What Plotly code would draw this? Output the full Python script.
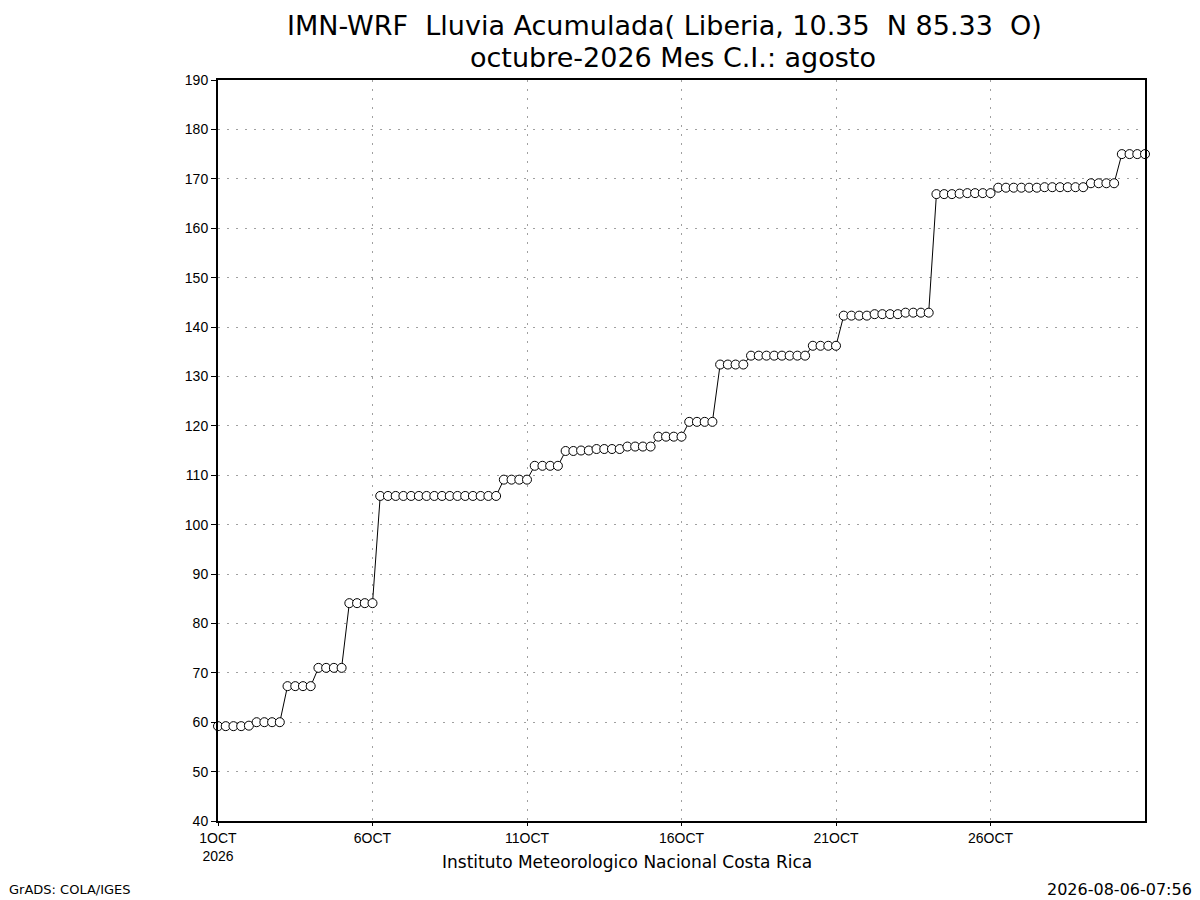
import pandas as pd
import plotly.graph_objects as go

# Accumulated rainfall (mm), one value every 6 hours from 1 Oct 00Z to 31 Oct 00Z
lluvia = [
    59.2, 59.2, 59.2, 59.2, 59.3,
    60.0, 60.0, 60.0, 60.0,
    67.3, 67.3, 67.3, 67.3,
    71.0, 71.0, 71.0, 71.0,
    84.1, 84.1, 84.1, 84.1,
    105.8, 105.8, 105.8, 105.8, 105.8, 105.8, 105.8, 105.8,
    105.8, 105.8, 105.8, 105.8, 105.8, 105.8, 105.8, 105.8,
    109.1, 109.1, 109.1, 109.1,
    111.9, 111.9, 111.9, 111.9,
    114.9, 114.9, 115.0, 115.0, 115.3, 115.3, 115.3, 115.3,
    115.8, 115.8, 115.8, 115.8,
    117.8, 117.8, 117.8, 117.8,
    120.8, 120.8, 120.8, 120.8,
    132.4, 132.4, 132.4, 132.4,
    134.2, 134.2, 134.2, 134.2, 134.2, 134.2, 134.2, 134.2,
    136.2, 136.2, 136.2, 136.2,
    142.3, 142.3, 142.3, 142.3, 142.6, 142.6, 142.6, 142.6,
    142.9, 142.9, 142.9, 142.9,
    166.9, 166.9, 166.9, 167.0, 167.1, 167.1, 167.1, 167.1,
    168.2, 168.2, 168.2, 168.2, 168.2, 168.2, 168.3, 168.3,
    168.3, 168.3, 168.3, 168.3,
    169.1, 169.1, 169.1, 169.1,
    175.0, 175.0, 175.0, 175.0,
]
fechas = pd.date_range('2026-10-01 00:00', periods=len(lluvia), freq='6h')

x_tick_vals = ['2026-10-01', '2026-10-06', '2026-10-11',
               '2026-10-16', '2026-10-21', '2026-10-26']
x_tick_text = ['1OCT<br>2026', '6OCT', '11OCT', '16OCT', '21OCT', '26OCT']
y_tick_vals = list(range(40, 191, 10))

titulo_1 = 'IMN-WRF  Lluvia Acumulada( Liberia, 10.35  N 85.33  O)'
titulo_2 = 'octubre-2026 Mes C.I.: agosto'
pie = 'Instituto Meteorologico Nacional Costa Rica'

FONT = 'Liberation Sans'
TEXT_FONT = 'DejaVu Sans'

# page is drawn with an 8px body margin; plot box in page pixels
PAGE_OFF = 8
BOX_L, BOX_R, BOX_T, BOX_B = 218, 1145, 80, 821


def page_to_paper(px, py):
    """Converts a page pixel position into plot-area paper coordinates"""
    return ((px - BOX_L) / (BOX_R - BOX_L),
            (BOX_B - py) / (BOX_B - BOX_T))


fig = go.Figure()
fig.add_trace(go.Scatter(
    x=fechas, y=lluvia, mode='lines+markers',
    line={'color': 'black', 'width': 1},
    marker={'symbol': 'circle', 'size': 9, 'color': 'white',
            'line': {'color': 'black', 'width': 1}},
    cliponaxis=False, showlegend=False,
))

grid = {'showgrid': True, 'gridcolor': '#a0a0a0', 'griddash': '2px,7px',
        'gridwidth': 1, 'showline': True, 'linecolor': 'black',
        'linewidth': 2, 'mirror': True, 'ticks': 'outside', 'ticklen': 5,
        'tickcolor': 'black', 'zeroline': False,
        'tickfont': {'family': FONT, 'size': 14}}

fig.update_layout(
    width=1200, height=900,
    margin={'l': BOX_L - PAGE_OFF, 'r': 1200 - BOX_R + PAGE_OFF,
            't': BOX_T - PAGE_OFF, 'b': 900 - BOX_B + PAGE_OFF,
            'autoexpand': False},
    paper_bgcolor='white', plot_bgcolor='white',
    font={'family': FONT, 'color': 'black', 'size': 14},
    xaxis={'range': ['2026-10-01', '2026-10-31'],
           'tickvals': x_tick_vals, 'ticktext': x_tick_text,
           'ticklen': 3, **{k: v for k, v in grid.items() if k != 'ticklen'}},
    yaxis={'range': [40, 190], 'tickvals': y_tick_vals, **grid},
)

textos = [
    (titulo_1, 664, 25, 'center', 27),
    (titulo_2, 673, 57, 'center', 27),
    (pie, 627, 862, 'center', 17),
    ('GrADS: COLA/IGES', 7, 889, 'left', 13),
    ('2026-08-06-07:56', 1194, 889, 'right', 16),
]
for texto, px, py, anchor, size in textos:
    xp, yp = page_to_paper(px, py)
    fig.add_annotation(text=texto, x=xp, y=yp, xref='paper', yref='paper',
                       xanchor=anchor, yanchor='middle', showarrow=False,
                       font={'family': TEXT_FONT, 'size': size})

fig.write_html('out.html')
